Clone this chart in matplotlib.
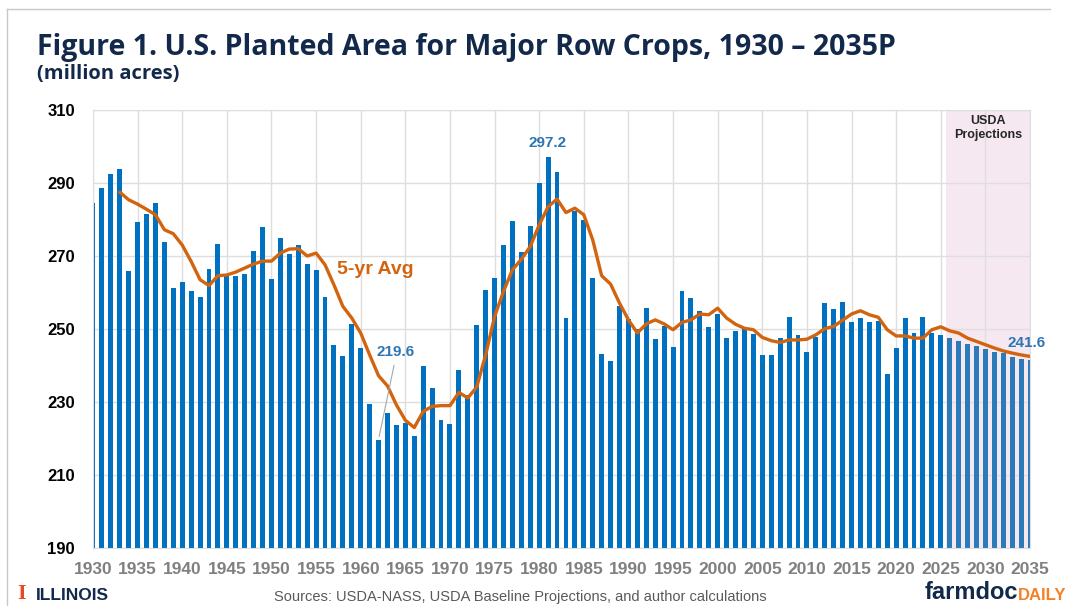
import numpy as np
import matplotlib
matplotlib.use('Agg')
import matplotlib.pyplot as plt

# planted area, million acres
years = list(range(1930, 2036))
acres = [284.4, 288.6, 292.5, 293.8, 266.0, 279.3, 281.6, 284.6, 273.9, 261.2,
         263.0, 260.3, 258.9, 266.5, 273.3, 264.6, 264.4, 265.1, 271.4, 278.0,
         263.7, 275.0, 270.6, 273.1, 267.7, 266.3, 258.9, 245.6, 242.7, 251.3,
         244.8, 229.5, 219.6, 227.0, 223.6, 224.2, 220.8, 240.0, 233.9, 225.1,
         224.0, 238.9, 232.0, 251.1, 260.7, 264.1, 273.1, 279.5, 271.0, 278.2,
         289.9, 297.2, 292.9, 253.0, 282.4, 279.9, 264.1, 243.2, 241.2, 256.3,
         252.8, 250.1, 255.7, 247.2, 250.9, 245.1, 260.4, 258.4, 255.0, 250.6,
         254.1, 247.4, 249.5, 250.0, 248.6, 242.8, 242.8, 247.4, 253.3, 248.3,
         243.7, 247.9, 257.1, 255.5, 257.3, 251.8, 253.0, 251.8, 252.3, 237.7,
         244.7, 253.0, 248.8, 253.3, 249.0, 248.3, 247.4, 246.8, 245.8, 245.4,
         244.5, 243.7, 243.3, 242.4, 241.9, 241.6]

avg_years = list(range(1933, 2036))
avg5 = [287.5, 285.4, 284.2, 282.8, 281.3, 277.2, 276.1, 273.0, 268.5, 263.5,
        261.9, 264.6, 264.8, 265.6, 266.7, 267.8, 268.6, 268.6, 270.8, 271.9,
        272.0, 270.0, 270.8, 267.6, 262.1, 256.2, 253.0, 248.9, 242.9, 237.2,
        234.4, 229.2, 225.0, 223.0, 227.4, 228.8, 229.0, 229.0, 232.6, 231.1,
        234.1, 242.9, 253.4, 260.3, 266.2, 269.1, 272.6, 278.5, 283.5, 285.6,
        281.9, 283.1, 281.3, 274.4, 264.6, 262.3, 257.1, 252.5, 248.9, 251.4,
        252.5, 251.4, 249.8, 251.8, 252.5, 254.1, 253.9, 255.7, 253.0, 251.3,
        250.2, 249.8, 247.7, 246.8, 246.3, 247.0, 247.0, 247.2, 248.4, 250.1,
        250.7, 252.4, 254.1, 255.0, 253.9, 253.2, 249.8, 248.1, 248.1, 247.5,
        247.5, 249.8, 250.6, 249.5, 248.9, 247.5, 246.6, 245.7, 244.8, 244.0,
        243.4, 242.9, 242.5]

first_proj = 2026

navy = '#13294b'
blue = '#0070c0'
blue_proj = '#2b7bbb'
orange = '#d2640f'
label_blue = '#2e75b6'

fig = plt.figure(figsize=(10.65, 6.06), dpi=100)
ax = fig.add_axes([93 / 1065, 1 - 548 / 606, (1030 - 93) / 1065, (548 - 110) / 606])

colors = [blue if y < first_proj else blue_proj for y in years]
ax.axvspan(2025.55, 2035, color='#f6e8f0', zorder=0.5, lw=0)
ax.bar(years, [a - 190 for a in acres], bottom=190, width=0.55, color=colors, zorder=2)
ax.plot(avg_years, avg5, color=orange, lw=2.4, zorder=3, solid_capstyle='round')

ax.set_xlim(1930, 2035)
ax.set_ylim(190, 310)
ax.set_xticks(range(1930, 2036, 5))
ax.set_yticks(range(190, 311, 20))
ax.grid(True, color='#dedede', lw=1.0, zorder=0)
ax.set_axisbelow(True)
for s in ax.spines.values():
    s.set_color('#dedede')
ax.tick_params(length=0, pad=10)
for t in ax.get_xticklabels():
    t.set_fontfamily('Liberation Sans')
    t.set_fontweight('bold')
    t.set_fontsize(12.5)
    t.set_color('#808080')
for t in ax.get_yticklabels():
    t.set_fontfamily('Liberation Sans')
    t.set_fontweight('bold')
    t.set_fontsize(12)
    t.set_color('black')
ax.tick_params(axis='y', pad=13)

# annotations
ax.text(1980.9, 301.0, '297.2', color=label_blue, fontsize=11, fontweight='bold',
        family='Liberation Sans', ha='center', va='center')
ax.text(1963.9, 243.7, '219.6', color=label_blue, fontsize=11, fontweight='bold',
        family='Liberation Sans', ha='center', va='center')
ax.annotate('', xy=(1962, 219.8), xytext=(1963.8, 240.8),
            arrowprops=dict(arrowstyle='-', color='#a6a6a6', lw=0.8))
ax.text(2034.6, 246.2, '241.6', color=label_blue, fontsize=11, fontweight='bold',
        family='Liberation Sans', ha='center', va='center', clip_on=False)
ax.text(1961.6, 266.2, '5-yr Avg', color=orange, fontsize=14, fontweight='bold',
        family='Liberation Sans', ha='center', va='center')
ax.text(2030.3, 305, 'USDA\nProjections', color='#262626', fontsize=9, fontweight='bold',
        family='Liberation Sans', ha='center', va='center', linespacing=1.2)

# title
fig.text(37 / 1065, 1 - 48 / 606, 'Figure 1. U.S. Planted Area for Major Row Crops, 1930 \u2013 2035P',
         fontsize=20.5, fontweight='bold', color=navy, family='Open Sans', va='center')
fig.text(37 / 1065, 1 - 74 / 606, '(million acres)', fontsize=14.5, fontweight='bold',
         color=navy, family='Open Sans', va='center')

# frame lines
fig.add_artist(plt.Line2D([7 / 1065, 1050 / 1065], [1 - 9 / 606, 1 - 9 / 606],
                          color='#c8c8c8', lw=1))
fig.add_artist(plt.Line2D([7 / 1065, 7 / 1065], [1 - 9 / 606, 0],
                          color='#c8c8c8', lw=1))

# footer
fig.text(17 / 1065, 2 / 606, 'I', fontsize=16, fontweight='bold', color='#e84a27',
         family='Liberation Serif', va='bottom')
fig.text(36 / 1065, 3 / 606, 'ILLINOIS', fontsize=12.5, fontweight='bold', color=navy,
         family='Liberation Sans', va='bottom')
fig.text(520 / 1065, 2 / 606, 'Sources: USDA-NASS, USDA Baseline Projections, and author calculations',
         fontsize=10.5, color='#595959', family='Liberation Sans', ha='center', va='bottom')
fig.text(1018 / 1065, 2 / 606, 'farmdoc', fontsize=17, fontweight='bold', color=navy,
         family='Liberation Sans', ha='right', va='bottom')
fig.text(1018 / 1065, 3 / 606, 'DAILY', fontsize=12, fontweight='bold', color='#f58025',
         family='Liberation Sans', ha='left', va='bottom')

fig.savefig('out.png', dpi=100)
